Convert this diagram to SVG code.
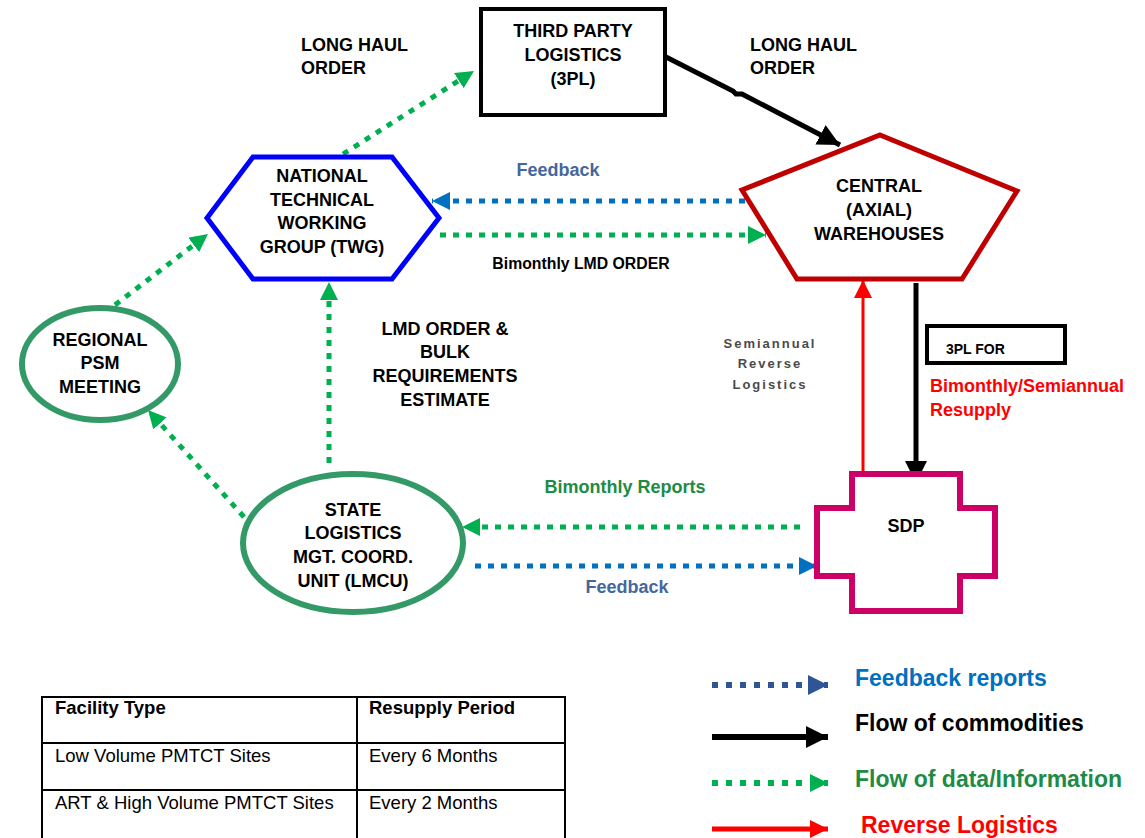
<svg xmlns="http://www.w3.org/2000/svg" width="1145" height="838" viewBox="0 0 1145 838">
<style>
text{font-family:"Liberation Sans",Arial,sans-serif;font-weight:bold;}
.n{font-size:18px;fill:#000;text-anchor:middle;}
.l{font-size:18px;fill:#000;}
.g{fill:none;stroke:#00B050;stroke-width:5;stroke-dasharray:6 7;}
.b{fill:none;stroke:#0070C0;stroke-width:5;stroke-dasharray:6 7;}
.t{font-size:18.5px;font-weight:normal;fill:#000;}
.th{font-size:18.5px;fill:#000;}
.lg{font-size:23px;}
.s{font-size:13px;letter-spacing:2px;fill:#4a4a4a;}
</style>
<defs>
<marker id="ag" markerUnits="userSpaceOnUse" markerWidth="18" markerHeight="18" viewBox="0 0 18 18" refX="18" refY="9" orient="auto"><path d="M0,0 L18,9 L0,18 z" fill="#00B050"/></marker>
<marker id="ab" markerUnits="userSpaceOnUse" markerWidth="18" markerHeight="18" viewBox="0 0 18 18" refX="18" refY="9" orient="auto"><path d="M0,0 L18,9 L0,18 z" fill="#0070C0"/></marker>
<marker id="abl" markerUnits="userSpaceOnUse" markerWidth="20" markerHeight="20" viewBox="0 0 20 20" refX="20" refY="10" orient="auto"><path d="M0,0 L20,10 L0,20 z" fill="#2F5597"/></marker>
<marker id="ak" markerUnits="userSpaceOnUse" markerWidth="22" markerHeight="22" viewBox="0 0 22 22" refX="22" refY="11" orient="auto"><path d="M0,0 L22,11 L0,22 z" fill="#000"/></marker>
<marker id="ar" markerUnits="userSpaceOnUse" markerWidth="18" markerHeight="18" viewBox="0 0 18 18" refX="18" refY="9" orient="auto"><path d="M0,0 L18,9 L0,18 z" fill="#FF0000"/></marker>
</defs>
<rect width="1145" height="838" fill="#fff"/>

<g id="connectors">
<line class="g" x1="343" y1="154" x2="474" y2="71" marker-end="url(#ag)"/>
<line class="g" x1="115" y1="305" x2="208" y2="234" marker-end="url(#ag)"/>
<line class="b" x1="745" y1="201" x2="432" y2="201" marker-end="url(#ab)"/>
<line class="g" x1="440" y1="235" x2="766" y2="235" marker-end="url(#ag)"/>
<line class="g" x1="329" y1="463" x2="329" y2="282" marker-end="url(#ag)"/>
<line class="g" x1="244" y1="517" x2="148" y2="410" marker-end="url(#ag)"/>
<line class="g" x1="800" y1="527" x2="462" y2="527" marker-end="url(#ag)"/>
<line class="b" x1="475" y1="566" x2="817" y2="566" marker-end="url(#ab)"/>
<polyline points="666,57 733,91 736,94 742,94 840,145" fill="none" stroke="#000" stroke-width="5" marker-end="url(#ak)"/>
<line x1="863" y1="472" x2="863" y2="280" stroke="#FF0000" stroke-width="3" marker-end="url(#ar)"/>
<line x1="916" y1="283" x2="916" y2="483" stroke="#000" stroke-width="5" marker-end="url(#ak)"/>
</g>

<g id="third-party">
<rect x="481" y="9" width="184" height="106" fill="#fff" stroke="#000" stroke-width="4"/>
<text class="n" x="573" y="37">THIRD PARTY</text>
<text class="n" x="573" y="61">LOGISTICS</text>
<text class="n" x="573" y="85">(3PL)</text>
</g>

<g id="twg">
<polygon points="253,157 392,157 439,218 392,279 253,279 207,218" fill="#fff" stroke="#0000FF" stroke-width="5"/>
<text class="n" x="322" y="182">NATIONAL</text>
<text class="n" x="322" y="206">TECHNICAL</text>
<text class="n" x="322" y="229">WORKING</text>
<text class="n" x="322" y="253">GROUP (TWG)</text>
</g>

<g id="central">
<polygon points="880,135 1017,191 962,279 797,279 742,190" fill="#fff" stroke="#C00000" stroke-width="5"/>
<text class="n" x="879" y="192">CENTRAL</text>
<text class="n" x="879" y="216">(AXIAL)</text>
<text class="n" x="879" y="240">WAREHOUSES</text>
</g>

<g id="regional">
<ellipse cx="100" cy="364" rx="78" ry="56" fill="#fff" stroke="#339966" stroke-width="6"/>
<text class="n" x="100" y="346">REGIONAL</text>
<text class="n" x="100" y="369">PSM</text>
<text class="n" x="100" y="393">MEETING</text>
</g>

<g id="lmcu">
<ellipse cx="353" cy="543" rx="110" ry="69" fill="#fff" stroke="#339966" stroke-width="6"/>
<text class="n" x="353" y="516">STATE</text>
<text class="n" x="353" y="539">LOGISTICS</text>
<text class="n" x="353" y="563">MGT. COORD.</text>
<text class="n" x="353" y="587">UNIT (LMCU)</text>
</g>

<g id="sdp">
<polygon points="852,474 960,474 960,508 995,508 995,576 960,576 960,611 852,611 852,576 817,576 817,508 852,508" fill="#fff" stroke="#CC0066" stroke-width="6"/>
<text class="n" x="906" y="532">SDP</text>
</g>

<g id="box-3pl-for">
<rect x="927" y="326" width="138" height="37" fill="#fff" stroke="#000" stroke-width="4"/>
<text x="946" y="354" style="font-size:14px;fill:#000">3PL FOR</text>
</g>

<g id="labels">
<text class="l" x="301" y="51">LONG HAUL</text>
<text class="l" x="301" y="74">ORDER</text>
<text class="l" x="750" y="51">LONG HAUL</text>
<text class="l" x="750" y="74">ORDER</text>
<text class="n" x="558" y="176" style="fill:#44679E">Feedback</text>
<text class="n" x="581" y="269" style="font-size:15.8px">Bimonthly LMD ORDER</text>
<text class="n" x="445" y="335">LMD ORDER &amp;</text>
<text class="n" x="445" y="358">BULK</text>
<text class="n" x="445" y="382">REQUIREMENTS</text>
<text class="n" x="445" y="406">ESTIMATE</text>
<text class="n" x="625" y="493" style="fill:#1E8B45">Bimonthly Reports</text>
<text class="n" x="627" y="593" style="fill:#44679E">Feedback</text>
<text class="n s" x="770" y="348">Semiannual</text>
<text class="n s" x="770" y="368">Reverse</text>
<text class="n s" x="770" y="389">Logistics</text>
<text class="l" x="930" y="392" style="fill:#FF0000">Bimonthly/Semiannual</text>
<text class="l" x="930" y="416" style="fill:#FF0000">Resupply</text>
</g>

<g id="table">
<rect x="42" y="697" width="523" height="160" fill="#fff" stroke="#000" stroke-width="2"/>
<line x1="357" y1="697" x2="357" y2="857" stroke="#000" stroke-width="2"/>
<line x1="42" y1="743" x2="565" y2="743" stroke="#000" stroke-width="2"/>
<line x1="42" y1="790" x2="565" y2="790" stroke="#000" stroke-width="2"/>
<text class="th" x="55" y="714">Facility Type</text>
<text class="th" x="369" y="714">Resupply Period</text>
<text class="t" x="55" y="762">Low Volume PMTCT Sites</text>
<text class="t" x="369" y="762">Every 6 Months</text>
<text class="t" x="55" y="809">ART &amp; High Volume PMTCT Sites</text>
<text class="t" x="369" y="809">Every 2 Months</text>
</g>

<g id="legend">
<line x1="712" y1="685" x2="828" y2="685" stroke="#2F5597" stroke-width="6" stroke-dasharray="6 8" marker-end="url(#abl)"/>
<text class="lg" x="855" y="686" style="fill:#0070C0">Feedback reports</text>
<line x1="712" y1="737" x2="828" y2="737" stroke="#000" stroke-width="6" marker-end="url(#ak)"/>
<text class="lg" x="855" y="731" style="fill:#000">Flow of commodities</text>
<line x1="712" y1="783" x2="828" y2="783" stroke="#00B050" stroke-width="6" stroke-dasharray="6 8" marker-end="url(#ag)"/>
<text class="lg" x="855" y="787" style="fill:#1E8B45">Flow of data/Information</text>
<line x1="712" y1="829" x2="828" y2="829" stroke="#FF0000" stroke-width="5" marker-end="url(#ar)"/>
<text class="lg" x="861" y="833" style="fill:#FF0000">Reverse Logistics</text>
</g>
</svg>
